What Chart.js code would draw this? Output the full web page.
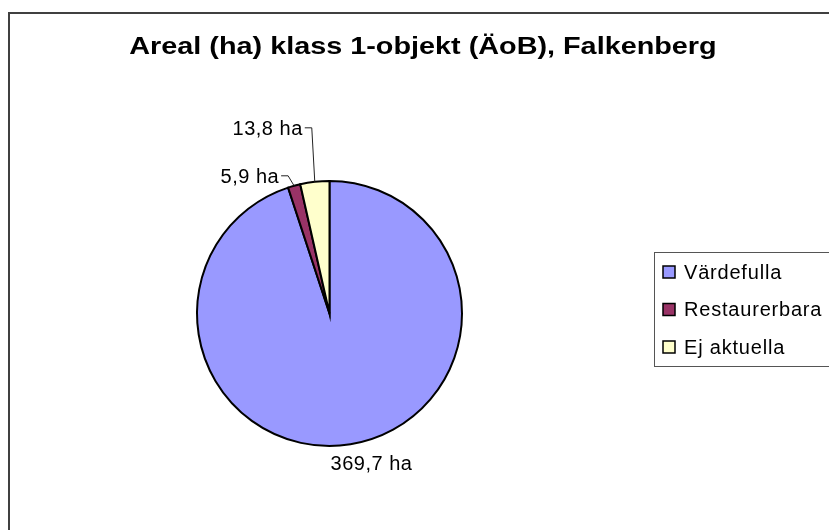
<!DOCTYPE html>
<html>
<head>
<meta charset="utf-8">
<script src="https://cdn.jsdelivr.net/npm/chart.js@4/dist/chart.umd.min.js"></script>
<style>
  body { margin: 0; background: #fff; }
  #wrap { width: 829px; height: 530px; position: relative; }
</style>
</head>
<body>
<div id="wrap"><canvas id="pieChart"></canvas></div>
<script>
// data
const categories = ['Värdefulla', 'Restaurerbara', 'Ej aktuella'];
const areaHa = [369.7, 5.9, 13.8];
const chartTitle = 'Areal (ha) klass 1-objekt (ÄoB), Falkenberg';

// styles
const sliceColors = ['#9999FF', '#993366', '#FFFFCC'];
// label placement relative to the slice's mid point on the rim: [elbow dx, elbow dy, leader?]
const labelPlace = [
    { dx: 21, dy: 20, leader: false },
    { dx: -6, dy: -10, leader: true },
    { dx: -3, dy: -54, leader: true }
];

function fmtHa(v) {
    return v.toFixed(1).replace('.', ',') + ' ha';
}

const decor = {
    id: 'decor',
    afterDraw(chart) {
        const c = chart.ctx;
        c.save();

        // outer frame (cropped on the right and bottom)
        c.strokeStyle = '#404040';
        c.lineWidth = 2;
        c.beginPath();
        c.moveTo(9, 540);
        c.lineTo(9, 13);
        c.lineTo(840, 13);
        c.stroke();

        // title
        c.fillStyle = '#000';
        c.font = 'bold 24px "Liberation Sans", Arial, sans-serif';
        c.textBaseline = 'alphabetic';
        c.textAlign = 'center';
        c.save();
        c.translate(423, 54);
        c.scale(1.2, 1);
        c.fillText(chartTitle, 0, 0);
        c.restore();

        // data labels
        const meta = chart.getDatasetMeta(0);
        c.font = '20px "Liberation Sans", Arial, sans-serif';
        c.letterSpacing = '0.5px';
        c.textBaseline = 'middle';
        c.strokeStyle = '#222';
        c.lineWidth = 1;
        meta.data.forEach((arc, i) => {
            const mid = (arc.startAngle + arc.endAngle) / 2;
            const ax = arc.x + Math.cos(mid) * arc.outerRadius;
            const ay = arc.y + Math.sin(mid) * arc.outerRadius;
            const p = labelPlace[i];
            const ex = ax + p.dx;
            const ey = ay + p.dy;
            const txt = fmtHa(areaHa[i]);
            if (p.leader) {
                c.beginPath();
                c.moveTo(ax, ay);
                c.lineTo(ex, ey);
                c.lineTo(ex - 7, ey);
                c.stroke();
                c.textAlign = 'right';
                c.fillText(txt, ex - 9, ey + 2);
            } else {
                c.textAlign = 'center';
                c.fillText(txt, ex, ey);
            }
        });

        // legend
        c.strokeStyle = '#555';
        c.lineWidth = 1;
        c.strokeRect(654.5, 252.5, 200, 114);
        c.letterSpacing = '0.8px';
        c.textAlign = 'left';
        categories.forEach((name, i) => {
            const y = 272 + i * 37.5;
            c.fillStyle = sliceColors[i];
            c.fillRect(663, y - 6, 12, 12);
            c.strokeStyle = '#000';
            c.lineWidth = 1.5;
            c.strokeRect(663, y - 6, 12, 12);
            c.fillStyle = '#000';
            c.fillText(name, 684, y + 1);
        });

        c.restore();
    }
};

const ctx = document.getElementById('pieChart').getContext('2d');
const pieChart = new Chart(ctx, {
    type: 'pie',
    data: {
        labels: categories,
        datasets: [{
            data: areaHa,
            backgroundColor: sliceColors,
            borderColor: '#000',
            borderWidth: 2,
            borderJoinStyle: 'miter'
        }]
    },
    options: {
        responsive: true,
        maintainAspectRatio: false,
        animation: false,
        layout: {
            padding: { left: 196, right: 366, top: 180, bottom: 83 }
        },
        plugins: {
            legend: { display: false },
            title: { display: false },
            tooltip: { enabled: false }
        }
    },
    plugins: [decor]
});
</script>
</body>
</html>
